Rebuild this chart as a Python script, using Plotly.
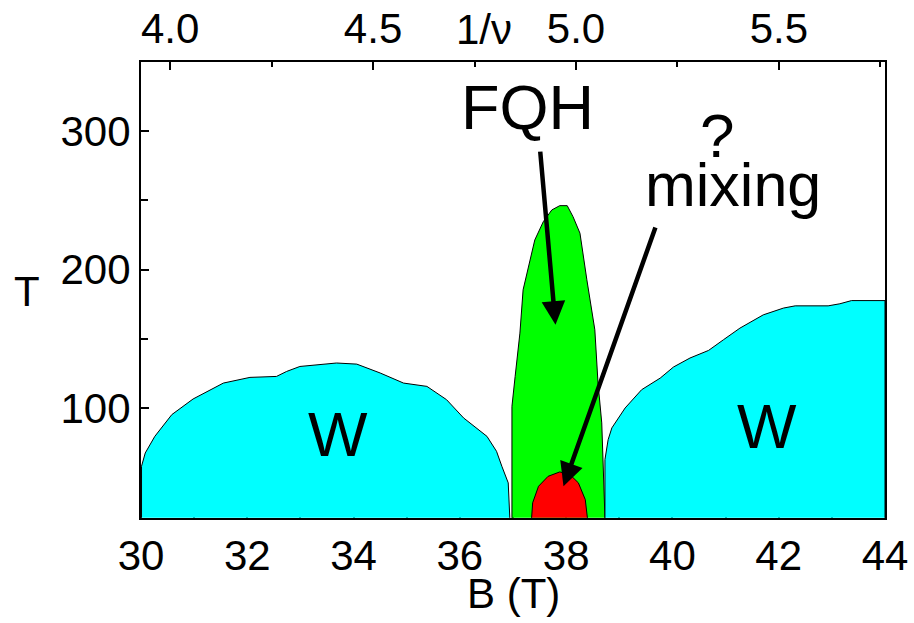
import plotly.graph_objects as go

FONT = "Liberation Sans, Arial, Helvetica, sans-serif"

# Field at which the filling factor is 1 (1/nu = B / B_NU1)
B_NU1 = 7.637

# Wigner-crystal region below the FQH state
w_left_B = [30.01, 30.01, 30.08, 30.26, 30.58, 30.98, 31.55, 32.05, 32.55, 32.74,
            32.99, 33.68, 34.06, 34.50, 34.94, 35.38, 35.75, 36.07, 36.51, 36.69,
            36.79, 36.91, 36.94]
w_left_T = [20.6, 57.9, 67.5, 79.5, 95.2, 106.5, 118.0, 122.1, 122.8, 126.4,
            130.0, 132.5, 131.7, 125.3, 118.0, 115.6, 106.0, 92.8, 79.5, 68.7,
            57.9, 45.9, 20.6]

# Fractional quantum Hall liquid
fqh_B = [36.98, 36.98, 37.04, 37.13, 37.19, 37.29, 37.41, 37.57, 37.73, 37.88,
         38.02, 38.13, 38.26, 38.39, 38.45, 38.54, 38.60, 38.67, 38.73]
fqh_T = [20.6, 101.2, 122.8, 154.1, 185.4, 202.2, 221.4, 234.6, 243.1, 246.2,
         246.2, 238.2, 226.3, 192.6, 178.1, 156.5, 118.0, 89.2, 20.6]

# Mixed phase inside the FQH dome
mix_B = [37.35, 37.37, 37.48, 37.66, 37.88, 38.07, 38.23, 38.36, 38.40]
mix_T = [20.6, 31.5, 43.4, 50.6, 53.8, 51.9, 45.9, 33.8, 20.6]

# Wigner-crystal region above the FQH state
w_right_B = [38.73, 38.73, 38.79, 38.86, 39.11, 39.42, 39.77, 40.02, 40.33, 40.68,
             40.96, 41.27, 41.71, 42.09, 42.31, 42.93, 43.15, 43.37, 44.00, 44.00]
w_right_T = [20.6, 62.7, 77.1, 85.6, 100.0, 113.2, 121.6, 129.6, 136.1, 141.6,
             149.3, 157.7, 167.3, 172.2, 173.8, 173.8, 175.3, 177.6, 177.6, 20.6]

# Pointer arrows (tail, head)
fqh_arrow_B = [37.51, 37.80]
fqh_arrow_T = [286.3, 160.1]
mix_arrow_B = [39.69, 37.95]
mix_arrow_T = [231.5, 43.4]

# Axis ticks
b_ticks = [30, 32, 34, 36, 38, 40, 42, 44]
t_ticks = [100, 200, 300]
t_minor = [50, 150, 250]
nu_ticks = [4.0, 4.5, 5.0, 5.5]
nu_labels = ["4.0", "4.5", "5.0", "5.5"]
nu_minor = [4.25, 4.75, 5.25, 5.75]

# Plot-area geometry in pixels
W, H = 914, 623
L, R, TOP, BOT = 141, 29, 62, 104.5
PW, PH = W - L - R, H - TOP - BOT

fig = go.Figure()


def region(B, T, color):
    fig.add_trace(go.Scatter(
        x=B, y=T, mode="lines", fill="toself", fillcolor=color,
        line=dict(color="black", width=1), hoverinfo="skip", showlegend=False,
    ))


region(w_left_B, w_left_T, "#00FFFF")
region(fqh_B, fqh_T, "#00FF00")
region(mix_B, mix_T, "#FF0000")
region(w_right_B, w_right_T, "#00FFFF")

# invisible trace to bind the 1/nu axis
fig.add_trace(go.Scatter(x=[30 / B_NU1, 44 / B_NU1], y=[None, None], xaxis="x2",
                         mode="lines", showlegend=False, hoverinfo="skip"))


def arrow(B, T):
    fig.add_annotation(
        x=B[1], y=T[1], ax=B[0], ay=T[0], xref="x", yref="y", axref="x", ayref="y",
        text="", showarrow=True, arrowhead=2, arrowsize=1.05, arrowwidth=4.5,
        arrowcolor="black", standoff=0, startstandoff=0,
    )


arrow(fqh_arrow_B, fqh_arrow_T)
arrow(mix_arrow_B, mix_arrow_T)

labels = [
    ("W", 33.71, 81.1, 63),
    ("W", 41.78, 86.9, 63),
    ("FQH", 37.28, 317.5, 63),
    ("?", 40.84, 297.0, 62),
    ("mixing", 41.14, 261.0, 61),
]
for text, x, y, size in labels:
    fig.add_annotation(x=x, y=y, text=text, showarrow=False,
                       font=dict(family=FONT, size=size, color="black"),
                       xanchor="center", yanchor="middle")


def paper_text(text, px, py):
    fig.add_annotation(x=(px - L) / PW, y=(H - BOT - py) / PH, xref="paper", yref="paper",
                       text=text, showarrow=False, xanchor="center", yanchor="middle",
                       font=dict(family=FONT, size=42, color="black"))


paper_text("1/\u03bd", 484, 29)
paper_text("T", 27, 292)
paper_text("B (T)", 513, 594)

axis_common = dict(
    showline=True, linecolor="black", linewidth=2, showgrid=False, zeroline=False,
    ticks="inside", tickcolor="black", tickwidth=1.5, layer="below traces",
    automargin=False, tickfont=dict(family=FONT, size=42, color="black"),
)

fig.update_layout(
    width=W, height=H,
    margin=dict(l=L, r=R, t=TOP, b=BOT, autoexpand=False),
    paper_bgcolor="white", plot_bgcolor="white",
    font=dict(family=FONT, size=42, color="black"),
    showlegend=False,
    xaxis=dict(
        range=[30, 44], tickvals=b_ticks, ticklen=5,
        minor=dict(dtick=1, tick0=30, ticks="inside", ticklen=4, tickcolor="black"),
        **axis_common,
    ),
    xaxis2=dict(
        overlaying="x", side="top", anchor="y",
        range=[30 / B_NU1, 44 / B_NU1], tickvals=nu_ticks, ticktext=nu_labels,
        ticklen=8,
        minor=dict(tickvals=nu_minor, ticks="inside", ticklen=5, tickcolor="black"),
        **axis_common,
    ),
    yaxis=dict(
        range=[20.5, 350], tickvals=t_ticks, ticklen=8, mirror=True,
        minor=dict(tickvals=t_minor, ticks="inside", ticklen=7, tickcolor="black"),
        **axis_common,
    ),
)

fig.write_html("out.html")
